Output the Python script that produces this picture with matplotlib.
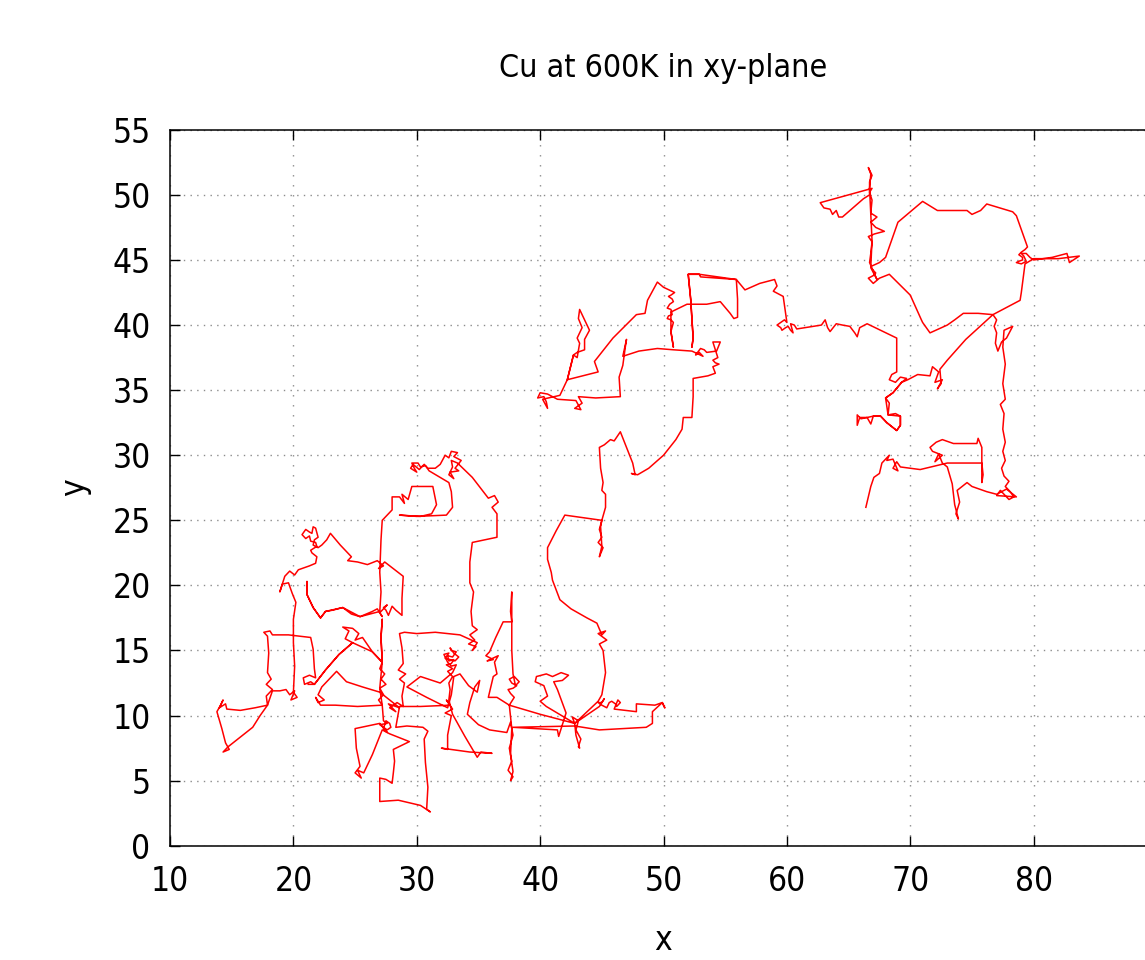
import matplotlib.pyplot as plt

# Cu atom trajectory projected on the xy-plane
# (one continuous walk, split into legs only to keep the lists readable)

leg_start = [
    (21.2, 12.4), (21.7, 12.4), (21.4, 12.6), (20.9, 12.4), (20.8, 12.9), (21.3, 13.1), (21.8, 12.9),
    (21.7, 13.6), (21.6, 15.1), (21.4, 16.0), (19.6, 16.2), (18.3, 16.2), (18.1, 16.5), (17.6, 16.4),
    (17.9, 16.1), (18.0, 14.8), (17.9, 13.3), (18.2, 12.8), (17.8, 12.4), (18.3, 12.0), (17.8, 11.5),
    (17.9, 10.8), (16.9, 10.6), (15.7, 10.4), (14.6, 10.5), (14.5, 10.9), (14.0, 10.6), (14.3, 11.2),
    (14.1, 10.8), (13.8, 10.3), (14.2, 9.0), (14.5, 7.9), (14.8, 7.4), (14.3, 7.2), (14.7, 7.6),
    (15.1, 7.9), (15.9, 8.5), (16.7, 9.1), (17.3, 10.0), (17.9, 10.8),
]

leg_west = [
    (18.3, 11.9), (18.9, 11.9), (19.4, 12.0), (19.7, 11.6), (20.1, 11.9), (19.8, 11.2), (20.3, 11.4),
    (20.0, 11.8), (20.1, 13.8), (20.0, 15.6), (20.0, 17.4), (20.2, 18.7), (19.9, 19.4), (19.6, 20.2),
    (19.1, 20.1), (18.9, 19.5), (19.3, 20.7), (19.7, 21.1), (20.1, 20.8), (20.4, 21.2), (21.3, 21.5),
    (21.8, 21.7), (21.9, 22.2), (21.5, 22.5), (21.4, 22.7), (21.9, 23.0), (21.8, 23.3), (21.4, 23.4),
    (21.3, 23.8), (21.0, 23.6), (20.7, 23.9), (21.0, 24.3), (21.3, 24.1), (21.5, 24.0), (21.6, 24.5),
    (21.8, 24.4), (22.0, 23.7), (21.7, 23.5), (21.6, 23.1), (22.0, 22.9), (22.3, 23.1), (22.7, 23.5),
    (23.0, 24.0), (23.8, 23.1), (24.7, 22.2), (24.4, 21.9), (25.2, 21.8), (26.0, 21.6), (26.8, 21.9),
    (27.3, 21.5), (26.9, 21.3), (27.4, 21.8), (28.9, 20.7), (28.8, 19.0), (28.8, 17.7), (28.3, 18.1),
    (28.0, 18.4), (27.7, 17.7), (27.5, 18.1), (27.3, 18.3), (27.6, 18.5), (27.0, 17.9), (27.2, 17.6),
    (26.8, 18.2), (26.4, 18.0), (25.4, 17.6), (24.7, 17.8), (24.0, 18.3), (23.2, 18.1), (22.6, 18.0),
    (22.2, 17.5), (21.6, 18.3), (21.1, 19.3), (21.1, 20.3), (21.1, 19.3), (21.6, 18.3), (22.2, 17.5),
    (22.6, 18.0), (24.0, 18.3), (25.4, 17.6), (27.0, 18.0),
]

leg_north = [
    (27.1, 19.5), (27.0, 21.0), (27.1, 23.5), (27.2, 25.0), (28.0, 25.8), (28.0, 26.8), (28.6, 26.8),
    (29.0, 26.3), (28.8, 27.0), (29.3, 26.6), (29.6, 27.6), (31.3, 27.6), (31.6, 26.2), (31.2, 25.5),
    (30.3, 25.3), (28.6, 25.4), (30.0, 25.3), (32.4, 25.4), (32.9, 26.0), (32.8, 27.2), (32.6, 27.9),
    (31.0, 28.8), (30.7, 29.2), (30.3, 29.1), (30.1, 29.4), (29.6, 29.4), (29.8, 29.0), (30.0, 28.7),
    (29.5, 29.0), (29.7, 29.3), (30.2, 28.9), (30.6, 29.3), (30.9, 29.0), (31.5, 29.0), (31.9, 29.3),
    (32.3, 30.0), (32.6, 29.8), (32.8, 30.3), (33.3, 30.2), (33.0, 29.9), (33.6, 29.6), (33.1, 29.0),
    (33.4, 28.8), (32.7, 28.7), (33.0, 28.2), (32.6, 28.5), (32.9, 29.1), (32.8, 29.6), (33.3, 29.4),
    (34.5, 28.3), (35.8, 26.7), (36.3, 26.9), (36.6, 26.4), (36.1, 26.0), (36.5, 25.5), (36.5, 23.7),
    (35.5, 23.5), (34.5, 23.3), (34.3, 21.8), (34.3, 20.2), (34.6, 19.5), (34.4, 18.0), (34.5, 16.9),
    (34.9, 16.6), (34.3, 16.2), (34.7, 15.8), (34.2, 15.5), (34.8, 15.3), (34.5, 15.0), (34.9, 15.6),
]

leg_band = [
    (33.5, 16.2), (31.5, 16.4), (30.0, 16.3), (29.0, 16.4), (28.6, 16.3), (28.8, 15.2), (28.9, 14.0),
    (28.5, 13.5), (29.1, 13.2), (28.6, 12.8), (29.0, 12.5), (28.8, 11.5), (28.9, 10.7), (28.4, 11.0),
    (27.8, 10.6), (28.3, 10.3), (27.7, 10.9), (28.6, 10.6), (27.0, 11.8), (25.6, 12.2), (24.3, 12.6),
    (23.5, 13.4), (22.3, 12.2), (22.0, 11.6), (22.5, 11.2), (22.0, 11.0), (21.8, 11.4), (22.2, 10.8),
    (23.4, 10.8), (25.2, 10.7), (27.2, 10.8), (26.9, 11.2), (27.3, 11.6), (27.0, 12.1), (27.5, 12.4),
    (27.1, 12.8), (27.4, 13.2), (27.0, 13.6), (27.2, 14.1), (27.1, 16.0), (27.2, 17.4), (27.1, 16.0),
    (27.2, 14.1), (26.4, 14.9), (25.6, 16.0), (25.0, 15.8), (25.3, 16.3), (24.8, 16.7), (24.0, 16.8),
    (24.5, 16.5), (24.2, 15.9), (24.8, 15.6), (23.7, 14.7), (22.6, 13.5), (21.7, 12.4), (22.6, 13.5),
    (23.7, 14.7), (24.8, 15.6), (26.4, 14.9), (27.2, 14.1), (27.0, 12.1), (27.2, 10.8),
]

leg_south = [
    (27.3, 9.6), (27.6, 9.4), (27.0, 9.3), (27.3, 9.1), (27.6, 8.9), (27.9, 9.1), (27.8, 9.4),
    (27.5, 9.6), (27.3, 9.0), (27.6, 8.7), (27.0, 9.4), (25.0, 9.0), (25.1, 7.5), (25.4, 6.1),
    (25.0, 5.6), (25.5, 5.2), (25.2, 5.8), (25.7, 5.6), (26.4, 7.0), (27.2, 8.9), (27.8, 8.6),
    (29.4, 8.0), (28.1, 7.4), (28.2, 6.5), (28.1, 5.6), (28.0, 4.8), (27.5, 5.1), (27.0, 5.2),
    (27.0, 3.4), (28.5, 3.5), (30.3, 3.1), (31.1, 2.6), (30.8, 2.8), (30.9, 4.5), (30.7, 6.4),
    (30.6, 8.2), (30.9, 8.8), (30.5, 9.1), (29.2, 9.2), (28.3, 9.1), (28.6, 10.7), (30.3, 10.7),
    (32.7, 10.8), (32.4, 11.2), (32.9, 10.5), (32.3, 10.2), (32.8, 10.0), (32.5, 8.5), (32.5, 7.4),
    (32.0, 7.5), (33.5, 7.3), (34.3, 7.2), (36.1, 7.1), (35.2, 7.2), (34.9, 6.8), (33.9, 8.4),
    (32.9, 10.1), (32.6, 11.2), (32.7, 12.0), (32.6, 12.5), (32.9, 13.0), (32.5, 13.4), (32.9, 13.6),
    (32.4, 13.9), (32.8, 14.0), (33.0, 14.3), (32.6, 14.2), (32.5, 14.6), (32.9, 14.5), (33.2, 14.9),
    (32.8, 15.0), (32.7, 15.2), (33.0, 14.8), (33.4, 14.5), (33.1, 14.2), (32.3, 14.4), (32.6, 14.8),
    (32.2, 14.7), (32.5, 14.1), (32.8, 13.8), (33.2, 13.9), (32.9, 13.3), (31.9, 12.5), (30.3, 13.0),
    (29.2, 12.2), (30.8, 11.4), (32.5, 10.6), (32.8, 11.6), (33.0, 13.0), (33.5, 13.2), (34.2, 12.3),
    (34.9, 11.8), (35.1, 12.7), (34.7, 12.2), (34.3, 11.0), (34.1, 10.1), (35.0, 9.3), (35.9, 8.9),
    (37.3, 8.7), (37.6, 9.5), (37.8, 8.5), (37.5, 7.5), (37.7, 6.5), (37.4, 5.8), (37.8, 5.3),
    (37.6, 5.0), (37.8, 5.7), (37.6, 7.0), (37.7, 9.0), (37.5, 10.8), (37.9, 11.4), (37.6, 11.7),
    (37.4, 12.0), (37.8, 12.1), (38.1, 12.3), (37.7, 12.5), (37.5, 12.8), (37.9, 13.0), (38.3, 12.6),
    (38.0, 12.3), (37.8, 13.2), (37.7, 15.0), (37.7, 17.2), (37.7, 19.5), (37.6, 18.0), (37.7, 17.2),
    (37.0, 17.2), (36.4, 16.0), (35.9, 14.9), (35.6, 14.6), (36.2, 14.3), (35.7, 14.2), (36.6, 14.6),
    (36.3, 14.1), (36.5, 13.2), (36.2, 13.0), (35.8, 11.4), (36.5, 11.4), (37.5, 10.8), (40.0, 10.1),
    (42.8, 9.4), (42.6, 9.9), (43.1, 9.6), (42.9, 8.9), (43.3, 8.2), (43.1, 7.6), (43.2, 7.5),
    (42.9, 8.5), (42.8, 9.4), (44.8, 10.7), (45.2, 11.3), (45.0, 11.0), (44.7, 11.0), (45.0, 10.8),
    (45.4, 10.6), (45.6, 11.0), (45.8, 11.1), (46.1, 10.9), (46.2, 10.7), (46.5, 11.0), (46.3, 11.2),
    (46.0, 10.5), (47.8, 10.3), (47.8, 10.9), (49.3, 10.8), (49.9, 11.0), (50.1, 10.6), (49.9, 11.0),
    (49.1, 10.3), (49.1, 9.4), (48.6, 9.1), (44.8, 8.9), (42.8, 9.2), (37.8, 9.1), (41.4, 8.9),
    (41.5, 8.4), (42.1, 10.2), (41.4, 12.0), (41.1, 12.6), (41.8, 12.7), (42.3, 13.1), (41.7, 13.3),
    (41.0, 13.0), (40.5, 13.2), (39.7, 13.0), (39.6, 12.6), (40.3, 12.3), (40.6, 11.5), (40.0, 11.1),
    (40.5, 10.7), (42.8, 9.4), (44.7, 11.1), (45.0, 11.6),
]

leg_mid = [
    (45.3, 13.3), (45.1, 15.0), (44.8, 15.5), (45.4, 15.8), (44.7, 16.3), (45.3, 16.5), (45.0, 16.2),
    (44.6, 17.1), (43.8, 17.5), (42.5, 18.2), (41.6, 18.9), (41.0, 20.4), (40.9, 21.0), (40.6, 22.0),
    (40.6, 22.9), (41.3, 24.2), (42.0, 25.4), (43.5, 25.2), (45.0, 25.0), (44.8, 24.3), (45.0, 23.7),
    (44.7, 23.3), (45.1, 22.9), (44.8, 22.2), (45.0, 23.0), (44.9, 24.5), (45.0, 25.0), (45.3, 26.0),
    (45.3, 27.0), (45.0, 27.3), (45.1, 27.9), (44.9, 29.0), (44.8, 30.6), (45.2, 30.8), (45.7, 31.2),
    (46.0, 31.1), (46.5, 31.8), (47.0, 30.6), (47.5, 29.4), (47.7, 28.5), (47.4, 28.6), (47.9, 28.5),
    (48.8, 29.0), (50.0, 30.0), (51.0, 31.2), (51.5, 32.0), (51.6, 32.9), (52.3, 32.9), (52.4, 34.5),
    (52.4, 35.9), (53.0, 36.0), (53.6, 36.1), (54.2, 36.3), (54.0, 36.8), (54.5, 37.0), (54.2, 37.1),
    (54.0, 37.3), (54.4, 37.5), (54.3, 37.8), (54.0, 38.7), (54.6, 38.7), (54.3, 38.0), (53.5, 37.9),
    (53.3, 38.1), (53.0, 38.2), (52.6, 37.7), (52.9, 37.9), (53.2, 37.6), (52.3, 38.0), (50.8, 38.1),
    (49.5, 38.2), (48.0, 38.0), (46.7, 37.6), (47.0, 38.9), (46.9, 38.3), (46.7, 36.9), (46.4, 36.0),
    (46.5, 34.5), (44.5, 34.4), (43.1, 34.5), (43.4, 34.0), (42.8, 33.6), (43.3, 33.5), (42.9, 34.2),
    (41.4, 34.3), (40.6, 34.7), (40.0, 34.8), (39.8, 34.4), (40.3, 34.5), (40.5, 34.1), (40.6, 33.6),
    (40.2, 34.3), (41.6, 34.6), (42.2, 35.8), (42.7, 37.7), (43.0, 37.5), (43.2, 38.6), (43.0, 39.0),
    (43.4, 39.8), (43.1, 40.5), (43.2, 41.2), (43.6, 40.4), (44.0, 39.6), (43.6, 38.9), (43.6, 38.1),
    (43.0, 37.9), (42.7, 37.7), (42.2, 35.8), (44.7, 36.4), (44.4, 37.2), (45.9, 39.0), (47.8, 40.8),
    (48.5, 40.9), (48.7, 41.9), (49.5, 43.3), (50.0, 42.9), (50.9, 42.5), (50.6, 42.3), (50.4, 42.2),
    (50.7, 42.0), (50.8, 41.8), (50.5, 41.6), (50.3, 41.3), (50.6, 41.2), (50.7, 40.8), (50.4, 40.7),
    (50.3, 40.5), (50.6, 40.4), (50.8, 40.2), (50.6, 39.5), (50.8, 38.3), (50.6, 39.5), (50.6, 41.0),
    (51.9, 41.6), (53.5, 41.6), (54.6, 41.8), (55.4, 40.9), (55.7, 40.5), (56.0, 40.6), (56.0, 42.0),
    (55.9, 43.5), (53.0, 43.7), (52.9, 43.9), (52.0, 43.9), (52.2, 42.0), (52.4, 39.0), (52.3, 38.3),
    (52.4, 39.0), (52.2, 42.0), (52.0, 43.9), (52.9, 43.9), (55.9, 43.5), (56.6, 42.7), (57.8, 43.2),
    (59.0, 43.5), (59.2, 43.0), (58.9, 42.6), (59.7, 42.2), (60.0, 40.2),
]

leg_east = [
    (59.8, 40.4), (59.5, 40.2), (59.2, 40.0), (59.5, 39.8), (59.6, 39.6), (59.9, 39.8), (60.1, 39.9),
    (60.3, 39.6), (60.5, 39.4), (60.3, 40.1), (60.6, 40.0), (60.8, 39.7), (62.8, 40.0), (63.1, 40.4),
    (63.3, 39.8), (63.5, 39.5), (64.0, 40.1), (64.5, 40.0), (65.1, 39.9), (65.5, 39.4), (65.7, 39.1),
    (65.9, 39.8), (66.5, 40.1), (68.9, 39.0), (68.9, 36.4), (68.5, 36.2), (68.3, 35.8), (68.8, 35.6),
    (69.2, 36.0), (69.7, 35.9), (69.3, 35.6), (68.6, 34.8), (68.0, 34.4), (68.3, 34.0), (68.2, 33.1),
    (68.8, 33.2), (69.2, 33.0), (69.2, 32.3), (68.9, 31.9), (68.5, 32.2), (68.1, 32.5), (67.6, 33.0),
    (67.0, 33.0), (66.8, 32.4), (66.5, 32.9), (65.9, 32.9), (65.7, 32.3), (65.7, 33.1), (66.0, 32.8),
    (66.5, 32.9), (67.0, 33.0), (67.6, 33.0), (68.1, 32.5), (68.9, 31.9), (69.2, 32.3), (69.2, 33.0),
    (68.2, 33.1), (68.0, 34.4), (68.6, 34.8), (69.3, 35.6), (69.8, 35.8), (70.6, 36.2), (71.6, 36.1),
    (71.8, 36.8), (72.3, 36.4), (72.0, 35.6), (72.6, 35.8), (72.2, 35.1), (72.5, 35.5), (72.4, 36.6),
    (73.0, 37.3), (74.5, 38.9), (76.7, 40.8), (75.5, 40.9), (74.3, 40.9), (73.6, 40.4), (73.0, 40.0),
    (71.6, 39.4), (71.0, 40.2), (70.9, 40.4), (70.0, 42.3), (68.3, 43.9), (67.5, 43.6), (67.0, 43.2),
    (66.6, 43.6), (67.0, 43.8), (67.2, 44.0), (66.8, 44.4), (67.3, 43.5), (66.7, 44.8), (66.8, 45.5),
    (66.9, 46.4), (66.6, 46.8), (67.1, 47.0), (67.9, 47.2), (67.2, 47.5), (66.8, 47.9), (67.3, 48.3),
    (66.8, 48.6), (66.9, 49.6), (66.7, 50.2), (66.9, 50.5), (62.7, 49.4), (63.0, 49.0), (63.5, 48.9),
    (63.7, 48.5), (64.0, 48.8), (64.2, 48.3), (64.5, 48.3), (66.2, 49.7), (66.7, 50.0), (66.7, 51.0),
    (66.9, 51.5), (66.6, 52.1), (66.8, 51.6), (66.7, 50.5), (66.8, 48.5), (66.9, 46.5), (66.8, 44.5),
    (67.5, 44.8), (68.0, 45.2), (69.0, 47.9), (71.0, 49.5), (72.2, 48.8), (74.6, 48.8), (75.0, 48.5),
    (75.7, 48.8), (76.2, 49.3), (78.3, 48.7), (78.6, 48.4), (79.5, 46.0), (79.3, 45.8), (79.0, 45.6),
    (78.8, 45.4), (79.1, 45.2), (79.1, 45.0), (78.8, 44.9), (78.6, 44.8), (79.0, 44.7), (79.4, 44.9),
    (79.2, 45.3), (79.0, 45.5), (79.4, 45.5), (79.7, 45.2), (80.0, 45.0), (81.5, 45.2), (82.7, 45.5),
    (82.9, 44.8), (83.7, 45.3), (82.0, 45.1), (80.0, 45.1), (79.3, 44.7), (79.0, 42.5), (78.9, 41.9),
    (76.7, 40.8), (77.0, 40.4), (76.8, 39.9), (77.0, 39.4), (76.9, 38.6), (77.1, 38.0), (77.4, 38.7),
    (77.8, 39.0), (78.3, 39.9), (77.6, 39.6), (77.5, 38.3), (77.7, 37.0), (77.5, 35.5), (77.7, 34.3),
    (77.3, 33.9), (77.6, 33.2), (77.5, 32.0), (77.7, 31.0), (77.5, 30.3), (77.7, 29.6), (77.4, 29.0),
    (77.6, 28.4), (78.0, 28.0), (77.7, 27.6), (78.1, 27.2), (78.4, 26.8), (78.0, 26.6), (77.6, 27.0),
    (77.3, 27.3), (77.0, 26.9), (78.6, 26.8), (77.8, 27.4), (77.0, 27.0), (76.2, 27.2), (75.0, 27.6),
    (74.6, 27.9), (73.8, 27.3), (74.0, 26.4), (73.7, 25.5), (73.9, 25.1), (73.6, 26.2), (73.4, 27.8),
    (73.0, 29.1), (72.6, 29.4), (72.3, 30.1), (72.0, 29.5), (72.6, 30.0), (71.8, 30.3), (71.6, 30.6),
    (72.1, 31.0), (72.6, 31.2), (73.5, 30.9), (75.4, 30.9), (75.5, 31.3), (75.8, 30.6), (75.8, 29.4),
    (75.9, 28.5), (75.8, 27.9), (75.8, 29.4), (74.5, 29.4), (73.0, 29.4), (70.8, 28.9), (69.2, 29.1),
    (68.9, 29.5), (68.6, 29.0), (69.0, 28.8), (68.6, 29.7), (68.1, 29.6), (68.3, 30.0), (67.7, 29.4),
    (67.5, 28.6), (67.05, 28.3), (66.8, 27.6), (66.4, 26.0),
]

legs = [leg_start, leg_west, leg_north, leg_band, leg_south, leg_mid, leg_east]
walk = [p for leg in legs for p in leg]
xs = [p[0] for p in walk]
ys = [p[1] for p in walk]

x_ticks = [10, 20, 30, 40, 50, 60, 70, 80]
y_ticks = [0, 5, 10, 15, 20, 25, 30, 35, 40, 45, 50, 55]

plt.rcParams['font.family'] = ['DejaVu Sans']
plt.rcParams['font.stretch'] = 'condensed'

fig = plt.figure(figsize=(11.45, 9.6), dpi=100)
# the right spine sits just outside the picture, as in the reference
ax = fig.add_axes([0.1485, 0.119, 0.862, 0.7458])

ax.plot(xs, ys, color='#ff0000', lw=1.1)

ax.set_xlim(10, 90)
ax.set_ylim(0, 55)
ax.set_xticks(x_ticks)
ax.set_yticks(y_ticks)
ax.tick_params(direction='in', length=7, width=1.0, labelsize=24,
               top=True, right=True)
ax.tick_params(axis='x', pad=14)
ax.tick_params(axis='y', pad=14)

ax.xaxis.grid(True, color='#8c8c8c', lw=1.0, linestyle=(0, (1, 6.2)))
ax.yaxis.grid(True, color='#8c8c8c', lw=1.0, linestyle=(0, (1, 3.8)))
for s in ax.spines.values():
    s.set_linewidth(1.1)

fig.text(663 / 1145, 1 - 68 / 960, 'Cu at 600K in xy-plane', ha='center', va='center', fontsize=23)
fig.text(75 / 1145, 1 - 487 / 960, 'y', ha='center', va='center', rotation=90, fontsize=24)
fig.text(663 / 1145, 1 - 940 / 960, 'x', ha='center', va='center', fontsize=24)

fig.savefig('out.png', dpi=100)
